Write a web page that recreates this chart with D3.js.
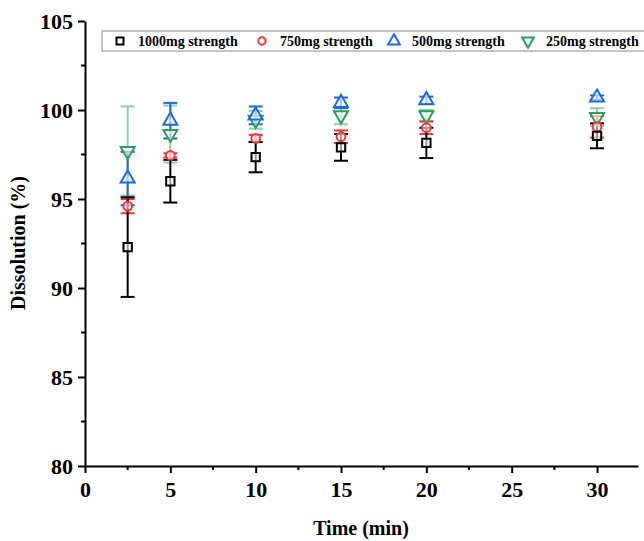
<!DOCTYPE html>
<html>
<head>
<meta charset="utf-8">
<script src="https://cdn.jsdelivr.net/npm/d3@7"></script>
<style>
  body { margin: 0; background: #fff; }
  text { font-family: "Liberation Serif", "Times New Roman", serif; font-weight: bold; }
</style>
</head>
<body>
<script>
var times = [2.5, 5, 10, 15, 20, 30];
var names = ["1000mg strength", "750mg strength", "500mg strength", "250mg strength"];
var s1000 = [92.3, 96.0, 97.35, 97.9, 98.15, 98.55];
var e1000 = [2.8, 1.2, 0.85, 0.75, 0.85, 0.7];
var s750 = [94.6, 97.45, 98.4, 98.5, 99.0, 99.05];
var e750 = [0.4, 0.12, 0.2, 0.35, 0.35, 0.6];
var s500 = [96.15, 99.4, 99.7, 100.4, 100.55, 100.7];
var e500 = [1.5, 1.0, 0.5, 0.3, 0.2, 0.12];
var s250 = [97.7, 98.65, 99.45, 99.7, 99.7, 99.6];
var e250 = [2.5, 1.6, 0.5, 0.5, 0.3, 0.5];
var xTicks = [0, 5, 10, 15, 20, 25, 30];
var yTicks = [80, 85, 90, 95, 100, 105];

var width = 644, height = 541;
var colors = ["#000000", "#ee3a3a", "#1f6ad8", "#2e9e5b"];
var barColors = ["#000000", "#ee3a3a", "#1f6ad8", "#8fd1a8"];
var shapes = [d3.symbolSquare, d3.symbolCircle, d3.symbolTriangle, d3.symbolTriangle];
var sizes = [70, 60, 85, 85];
var rot = [0, 0, 0, 180];

var series = [
  {vals: s1000, errs: e1000},
  {vals: s750, errs: e750},
  {vals: s500, errs: e500},
  {vals: s250, errs: e250}
];

var svg = d3.select("body").append("svg")
  .attr("width", width).attr("height", height);

var x = d3.scaleLinear().domain([0, 32.4]).range([85, 638]);
var y = d3.scaleLinear().domain([80, 105]).range([466, 21]);

// axes
var xAxis = d3.axisBottom(x).tickValues(xTicks).tickSize(7).tickPadding(8).tickSizeOuter(0);
var gx = svg.append("g").attr("transform", "translate(0," + y(80) + ")").call(xAxis);
var yAxis = d3.axisLeft(y).tickValues(yTicks).tickSize(7).tickPadding(5).tickSizeOuter(0);
var gy = svg.append("g").attr("transform", "translate(" + x(0) + ",0)").call(yAxis);

[gx, gy].forEach(function(g) {
  g.select(".domain").attr("stroke", "#000").attr("stroke-width", 2);
  g.selectAll(".tick line").attr("stroke", "#000").attr("stroke-width", 2);
  g.selectAll(".tick text").attr("fill", "#000").style("font-size", "22px")
    .style("font-family", "'Liberation Serif', serif").style("font-weight", "bold");
});

// minor ticks
svg.selectAll(".xminor").data([2.5, 7.5, 12.5, 17.5, 22.5, 27.5])
  .enter().append("line")
  .attr("x1", function(d){ return x(d); }).attr("x2", function(d){ return x(d); })
  .attr("y1", y(80)).attr("y2", y(80) + 4)
  .attr("stroke", "#000").attr("stroke-width", 2);
svg.selectAll(".yminor").data([82.5, 87.5, 92.5, 97.5, 102.5])
  .enter().append("line")
  .attr("x1", x(0)).attr("x2", x(0) - 4)
  .attr("y1", function(d){ return y(d); }).attr("y2", function(d){ return y(d); })
  .attr("stroke", "#000").attr("stroke-width", 2);

// axis titles
svg.append("text").attr("x", 361).attr("y", 535).attr("text-anchor", "middle")
  .style("font-size", "20px").text("Time (min)");
svg.append("text").attr("transform", "translate(25,243) rotate(-90)")
  .attr("text-anchor", "middle").style("font-size", "20px").text("Dissolution (%)");

// error bars (drawn back to front: 250 first)
var order = [3, 2, 1, 0];
order.forEach(function(si) {
  var s = series[si];
  var g = svg.append("g").attr("stroke", barColors[si]).attr("stroke-width", 2).attr("fill", "none");
  times.forEach(function(t, i) {
    var cx = x(t), top = y(s.vals[i] + s.errs[i]), bot = y(s.vals[i] - s.errs[i]);
    g.append("line").attr("x1", cx).attr("x2", cx).attr("y1", top).attr("y2", bot);
    g.append("line").attr("x1", cx - 7).attr("x2", cx + 7).attr("y1", top).attr("y2", top);
    g.append("line").attr("x1", cx - 7).attr("x2", cx + 7).attr("y1", bot).attr("y2", bot);
  });
});

// markers
order.forEach(function(si) {
  var s = series[si];
  svg.append("g").selectAll("path").data(times).enter().append("path")
    .attr("d", d3.symbol().type(shapes[si]).size(sizes[si]))
    .attr("transform", function(d, i) {
      return "translate(" + x(d) + "," + y(s.vals[i]) + ") rotate(" + rot[si] + ")";
    })
    .attr("fill", "#fff").attr("fill-opacity", 0.6)
    .attr("stroke", colors[si]).attr("stroke-width", 2);
});

// legend
var leg = svg.append("g");
leg.append("rect").attr("x", 102).attr("y", 31).attr("width", 560).attr("height", 20)
  .attr("fill", "#fff").attr("stroke", "#888").attr("stroke-width", 1);
var legX = [120, 262, 394, 528];
names.forEach(function(n, i) {
  leg.append("path").attr("d", d3.symbol().type(shapes[i]).size(sizes[i] * 0.7))
    .attr("transform", "translate(" + legX[i] + ",41) rotate(" + rot[i] + ")")
    .attr("fill", "none").attr("stroke", colors[i]).attr("stroke-width", 2);
  leg.append("text").attr("x", legX[i] + 18).attr("y", 46).style("font-size", "14px").text(n);
});
</script>
</body>
</html>
